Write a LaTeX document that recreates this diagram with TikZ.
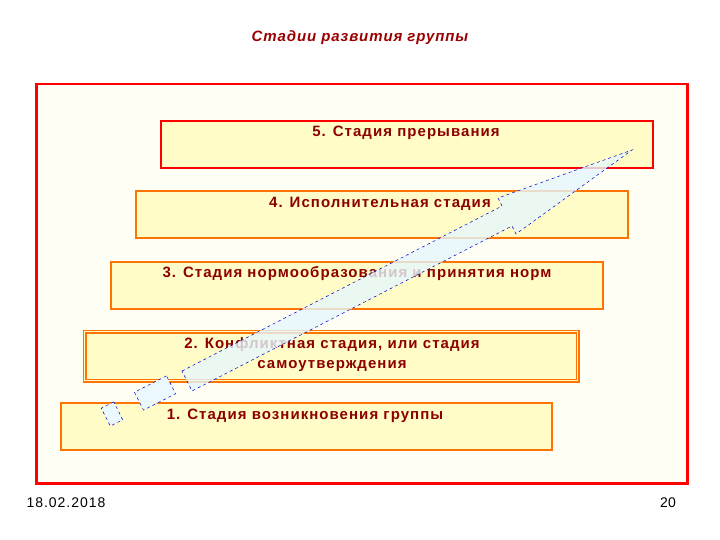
\documentclass[tikz,border=0pt]{standalone}
\usepackage{fontspec}
\setmainfont{Liberation Sans}
\begin{document}
\begin{tikzpicture}[x=1pt,y=-1pt,
  stage/.style={draw=orange!90!red, line width=2.2pt, fill=yellow!22, minimum height=47pt, anchor=north west, inner sep=0pt},
  lbl/.style={text=red!55!black, font=\fontsize{15}{18}\selectfont\bfseries\addfontfeatures{LetterSpace=7}, align=center},
  dashbox/.style={draw=blue!80!black, dashed, fill=cyan!8, line width=0.5pt, rotate=27, inner sep=0pt}]
\useasboundingbox (0,0) rectangle (720,540);
\node[text=red!60!black, font=\fontsize{15}{18}\selectfont\bfseries\itshape\addfontfeatures{LetterSpace=6}] (title) at (360,38) {Стадии развития группы};
\node[draw=red, line width=2.5pt, fill=yellow!4, minimum width=651pt, minimum height=399pt, anchor=north west, inner sep=0pt] (frame) at (35,83) {};
\node[stage, draw=red, minimum width=492pt] (b5) at (160,120) {};
\node[stage, minimum width=492pt] (b4) at (135,190) {};
\node[stage, minimum width=492pt] (b3) at (110,261) {};
\node[stage, line width=1.5pt, double=yellow!22, double distance=0.6pt, minimum width=493pt, minimum height=49pt] (b2) at (84,331) {};
\node[stage, minimum width=491pt] (b1) at (60,402) {};
\node[lbl] (t5) at (406,133) {5. Стадия прерывания};
\node[lbl] (t4) at (380,204) {4. Исполнительная стадия};
\node[lbl] (t3) at (357,274) {3. Стадия нормообразования и принятия норм};
\node[lbl, font=\fontsize{15}{20}\selectfont\bfseries\addfontfeatures{LetterSpace=7}] (t2) at (332,355) {2. Конфликтная стадия, или стадия\\ самоутверждения};
\node[lbl] (t1) at (305,416) {1. Стадия возникновения группы};
\draw[draw=blue!80!black, dashed, fill=cyan!10, fill opacity=0.8, line width=0.5pt]
  (182,371) -- (502,206) -- (498,198) -- (632,150) -- (516,234) -- (512,226) -- (192,391) -- cycle;
\node[dashbox, minimum width=36pt, minimum height=20pt] (sqa) at (155,393) {};
\node[dashbox, minimum width=14pt, minimum height=20pt] (sqb) at (112,414) {};
\node[font=\fontsize{14}{16}\selectfont\addfontfeatures{LetterSpace=7}] (date) at (66,503) {18.02.2018};
\node[font=\fontsize{14}{16}\selectfont] (page) at (668,503) {20};
\end{tikzpicture}
\end{document}
